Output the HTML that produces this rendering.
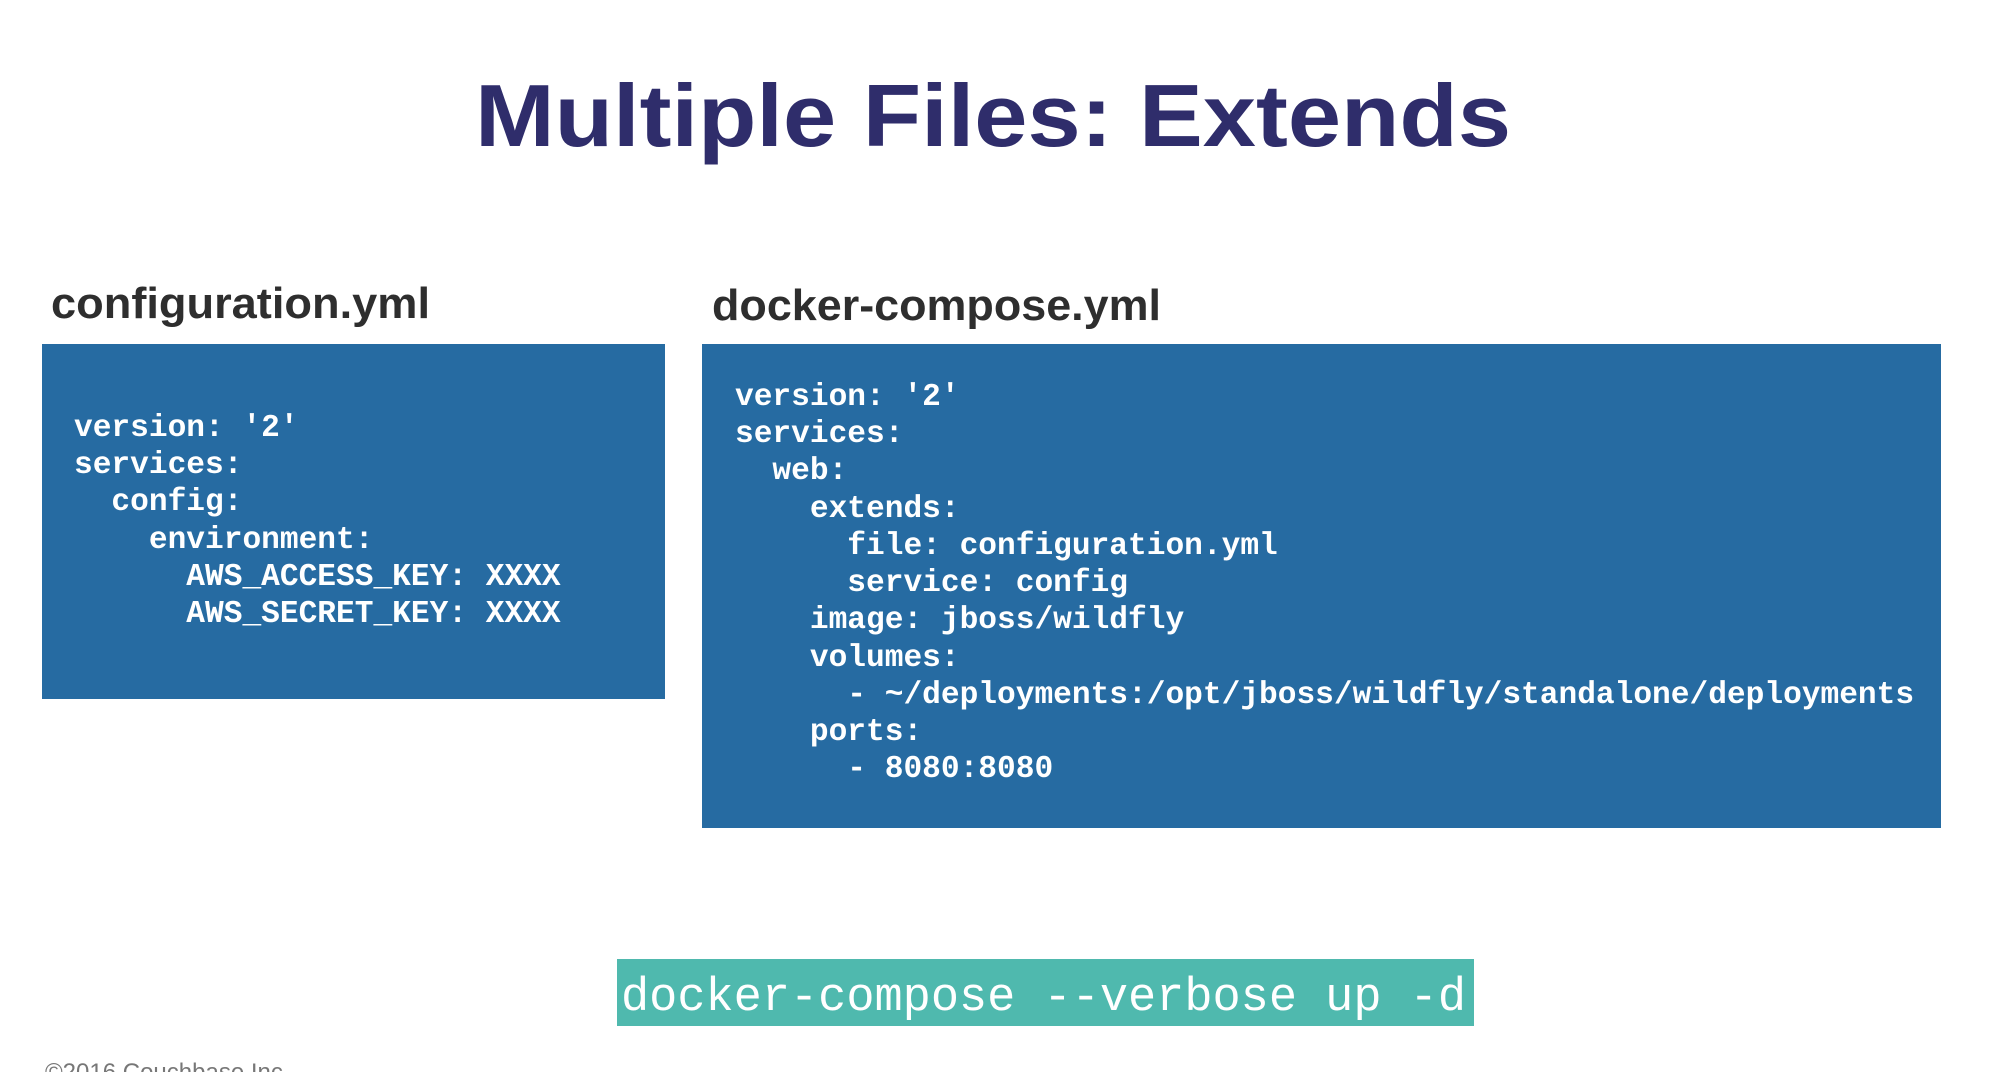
<!DOCTYPE html>
<html><head><meta charset="utf-8"><style>
html,body{margin:0;padding:0;background:#fff;width:2011px;height:1072px;overflow:hidden}
svg{display:block}
.m{font-family:"Liberation Mono",monospace;font-weight:bold;font-size:31.2px;fill:#fff}
</style></head><body>
<svg width="2011" height="1072" viewBox="0 0 2011 1072" xmlns="http://www.w3.org/2000/svg">
<text x="475" y="146" font-family="Liberation Sans,sans-serif" font-weight="bold" font-size="88" fill="#2f2d6b" textLength="1036" lengthAdjust="spacingAndGlyphs">Multiple Files: Extends</text>
<text x="51" y="318" font-family="Liberation Sans,sans-serif" font-weight="bold" font-size="44" fill="#2e2e2e" textLength="379" lengthAdjust="spacingAndGlyphs">configuration.yml</text>
<text x="712" y="320" font-family="Liberation Sans,sans-serif" font-weight="bold" font-size="44" fill="#2e2e2e" textLength="449" lengthAdjust="spacingAndGlyphs">docker-compose.yml</text>
<rect x="42" y="344" width="623" height="355" fill="#266ba2"/>
<rect x="702" y="344" width="1239" height="484" fill="#266ba2"/>
<g class="m">
<text x="74" y="436" xml:space="preserve">version: '2'</text>
<text x="74" y="473" xml:space="preserve">services:</text>
<text x="74" y="510" xml:space="preserve">  config:</text>
<text x="74" y="548" xml:space="preserve">    environment:</text>
<text x="74" y="585" xml:space="preserve">      AWS_ACCESS_KEY: XXXX</text>
<text x="74" y="622" xml:space="preserve">      AWS_SECRET_KEY: XXXX</text>
<text x="735" y="405" xml:space="preserve">version: '2'</text>
<text x="735" y="442" xml:space="preserve">services:</text>
<text x="735" y="479" xml:space="preserve">  web:</text>
<text x="735" y="517" xml:space="preserve">    extends:</text>
<text x="735" y="554" xml:space="preserve">      file: configuration.yml</text>
<text x="735" y="591" xml:space="preserve">      service: config</text>
<text x="735" y="628" xml:space="preserve">    image: jboss/wildfly</text>
<text x="735" y="666" xml:space="preserve">    volumes:</text>
<text x="735" y="703" xml:space="preserve">      - ~/deployments:/opt/jboss/wildfly/standalone/deployments</text>
<text x="735" y="740" xml:space="preserve">    ports:</text>
<text x="735" y="777" xml:space="preserve">      - 8080:8080</text>
</g>
<rect x="617" y="959" width="857" height="67" fill="#4fb9ae"/>
<text x="621" y="1010" font-family="Liberation Mono,monospace" font-size="47" fill="#fff" textLength="845" lengthAdjust="spacingAndGlyphs">docker-compose --verbose up -d</text>
<text x="45" y="1080" font-family="Liberation Sans,sans-serif" font-size="24" fill="#777">©2016 Couchbase Inc.</text>
</svg>
</body></html>
